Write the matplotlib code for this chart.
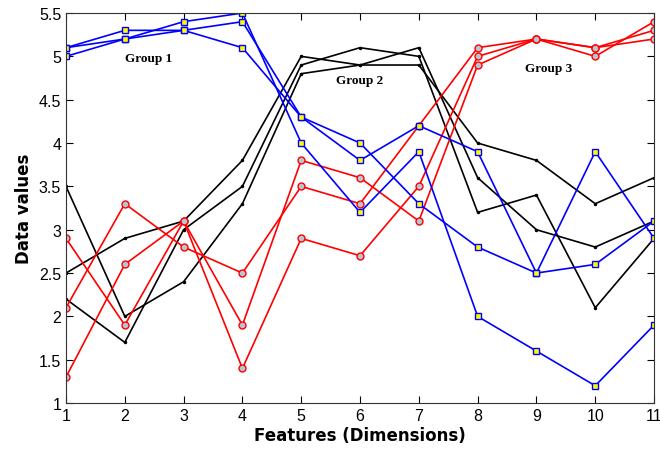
import matplotlib
matplotlib.use("Agg")
import matplotlib.pyplot as plt

features = list(range(1, 12))

# group 1 (blue)
blue1 = [5.1, 5.3, 5.3, 5.1, 4.3, 4.0, 3.3, 2.8, 2.5, 2.6, 3.1]
blue2 = [5.0, 5.2, 5.4, 5.5, 4.0, 3.2, 3.9, 2.0, 1.6, 1.2, 1.9]
blue3 = [5.1, 5.2, 5.3, 5.4, 4.3, 3.8, 4.2, 3.9, 2.5, 3.9, 2.9]

# group 2 (black)
black1 = [2.5, 2.9, 3.1, 3.8, 5.0, 4.9, 4.9, 4.0, 3.8, 3.3, 3.6]
black2 = [3.5, 2.0, 2.4, 3.3, 4.8, 4.9, 5.1, 3.6, 3.0, 2.8, 3.1]
black3 = [2.2, 1.7, 3.0, 3.5, 4.9, 5.1, 5.0, 3.2, 3.4, 2.1, 2.9]

# group 3 (red)
red1 = [2.9, 1.9, 3.1, 1.9, 3.8, 3.6, 3.1, 4.9, 5.2, 5.1, 5.2]
red2 = [2.1, 3.3, 2.8, 2.5, 3.5, 3.3, 4.2, 5.1, 5.2, 5.1, 5.3]
red3 = [1.3, 2.6, 3.1, 1.4, 2.9, 2.7, 3.5, 5.0, 5.2, 5.0, 5.4]

group_labels = ["Group 1", "Group 2", "Group 3"]
label_pos = [(2.4, 4.98), (6.0, 4.73), (9.2, 4.87)]

fig = plt.figure(figsize=(6.6, 4.52), dpi=100)
ax = fig.add_axes([0.1, 0.106, 0.891, 0.863])

for s in [black1, black2, black3]:
    ax.plot(features, s, color="black", lw=1.2, marker=".", ms=3)
for s in [red1, red2, red3]:
    ax.plot(features, s, color="red", lw=1.2, marker="o", ms=5,
            mfc="#b4c8d4", mec="red", mew=1)
for s in [blue1, blue2, blue3]:
    ax.plot(features, s, color="blue", lw=1.2, marker="s", ms=5,
            mfc="yellow", mec="blue", mew=1)

for txt, (x, y) in zip(group_labels, label_pos):
    ax.text(x, y, txt, family="Liberation Serif", fontweight="bold",
            fontsize=9.5, ha="center", va="center")

ax.set_xlim(1, 11)
ax.set_ylim(1, 5.5)
ax.set_xticks(features)
ax.set_yticks([1, 1.5, 2, 2.5, 3, 3.5, 4, 4.5, 5, 5.5])
ax.set_yticklabels(["1", "1.5", "2", "2.5", "3", "3.5", "4", "4.5", "5", "5.5"])
ax.tick_params(direction="in", top=True, right=True, labelsize=11.5, length=5)
for lab in ax.get_xticklabels() + ax.get_yticklabels():
    lab.set_family("Liberation Sans")
for sp in ax.spines.values():
    sp.set_color("#333333")
ax.set_xlabel("Features (Dimensions)", fontsize=12, fontweight="bold", labelpad=2)
ax.set_ylabel("Data values", fontsize=12, fontweight="bold", labelpad=4)

fig.savefig("out.png", dpi=100)
